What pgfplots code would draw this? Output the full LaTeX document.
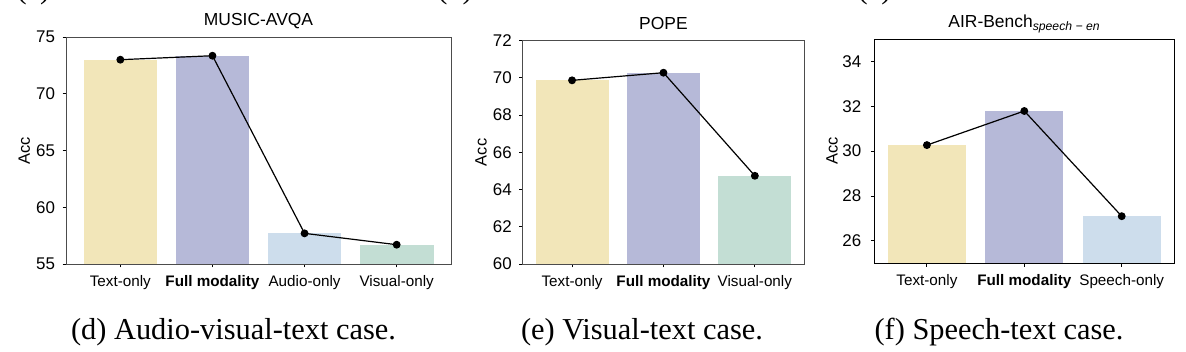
\documentclass[border=0pt]{standalone}
\usepackage{fontspec}
\setmainfont{Liberation Sans}
\newfontfamily\capfont{Liberation Serif}
\usepackage{pgfplots}
\pgfplotsset{compat=1.18}

\definecolor{cyel}{RGB}{242,230,185}
\definecolor{cpur}{RGB}{182,185,216}
\definecolor{cblu}{RGB}{205,221,236}
\definecolor{cgrn}{RGB}{195,222,212}

\pgfplotsset{
  panel/.style={
    scale only axis,
    anchor=south west,
    /pgf/number format/assume math mode=true,
    axis line style={line width=0.9bp},
    tick style={line width=0.9bp, black},
    tick align=outside,
    major tick length=3.5bp,
    xtick pos=bottom, ytick pos=left,
    xticklabel style={font=\fontsize{15.3}{18}\selectfont, anchor=base, yshift=-18.7bp},
    yticklabel style={font=\fontsize{17}{20}\selectfont, xshift=-4bp},
    title style={font=\fontsize{17.5}{20}\selectfont, at={(0.5,1)}, anchor=base, yshift=5.5bp},
    ylabel={Acc},
    ylabel style={font=\fontsize{16.5}{20}\selectfont, anchor=center},
    clip=true,
  },
  barst/.style={ybar, bar width=0.8, bar shift=0pt, draw=none, fill=#1},
  linest/.style={sharp plot, black, line width=1.2bp, mark=*, mark size=3.3bp, mark options={solid, fill=black}},
}

\begin{document}
\begin{tikzpicture}
\useasboundingbox (0,0) rectangle (1186bp,352bp);

% Panel (d)
\begin{axis}[panel, at={(66bp,88bp)}, width=385bp, height=227bp,
  axis line style={black!70},
  xmin=-0.59, xmax=3.59, ymin=55, ymax=75,
  ytick={55,60,65,70,75},
  xtick={0,1,2,3},
  xticklabels={Text-only,\textbf{Full modality},Audio-only,Visual-only},
  title={MUSIC-AVQA},
  ylabel style={at={(axis description cs:-0.108,0.5)}},
]
\addplot[barst=cyel] coordinates {(0,73.0)};
\addplot[barst=cpur] coordinates {(1,73.35)};
\addplot[barst=cblu] coordinates {(2,57.7)};
\addplot[barst=cgrn] coordinates {(3,56.7)};
\addplot[linest] coordinates {(0,73.0) (1,73.35) (2,57.7) (3,56.7)};
\end{axis}

% Panel (e)
\begin{axis}[panel, at={(522.7bp,88bp)}, width=281.5bp, height=223.3bp,
  axis line style={black!70},
  xmin=-0.54, xmax=2.54, ymin=60, ymax=72,
  ytick={60,62,64,66,68,70,72},
  xtick={0,1,2},
  xticklabels={Text-only,\textbf{Full modality},Visual-only},
  title={POPE},
  ylabel style={at={(axis description cs:-0.148,0.5)}},
]
\addplot[barst=cyel] coordinates {(0,69.87)};
\addplot[barst=cpur] coordinates {(1,70.28)};
\addplot[barst=cgrn] coordinates {(2,64.74)};
\addplot[linest] coordinates {(0,69.87) (1,70.28) (2,64.74)};
\end{axis}

% Panel (f)
\begin{axis}[panel, at={(874.3bp,88.7bp)}, width=300bp, height=224.3bp,
  axis line style={black},
  xmin=-0.54, xmax=2.54, ymin=25, ymax=35,
  ytick={26,28,30,32,34},
  yticklabel style={xshift=-2bp},
  xtick={0,1,2},
  xticklabels={Text-only,\textbf{Full modality},Speech-only},
  title={AIR-Bench\textsubscript{\itshape speech − en}},
  ylabel style={at={(axis description cs:-0.141,0.5)}},
]
\addplot[barst=cyel] coordinates {(0,30.27)};
\addplot[barst=cpur] coordinates {(1,31.79)};
\addplot[barst=cblu] coordinates {(2,27.1)};
\addplot[linest] coordinates {(0,30.27) (1,31.79) (2,27.1)};
\end{axis}

% captions
\node[font=\capfont\fontsize{30.5}{34}\selectfont, anchor=base] at (233.5bp,13bp) {(d) Audio-visual-text case.};
\node[font=\capfont\fontsize{30.5}{34}\selectfont, anchor=base] at (642bp,13bp) {(e) Visual-text case.};
\node[font=\capfont\fontsize{30.5}{34}\selectfont, anchor=base] at (999bp,13bp) {(f) Speech-text case.};
% cut-off captions of the row above
\node[font=\capfont\fontsize{30.5}{34}\selectfont, anchor=base] at (33.5bp,353.5bp) {(a)};
\node[font=\capfont\fontsize{30.5}{34}\selectfont, anchor=base] at (455bp,353.5bp) {(b)};
\node[font=\capfont\fontsize{30.5}{34}\selectfont, anchor=base] at (874.5bp,353.5bp) {(c)};
\end{tikzpicture}
\end{document}
